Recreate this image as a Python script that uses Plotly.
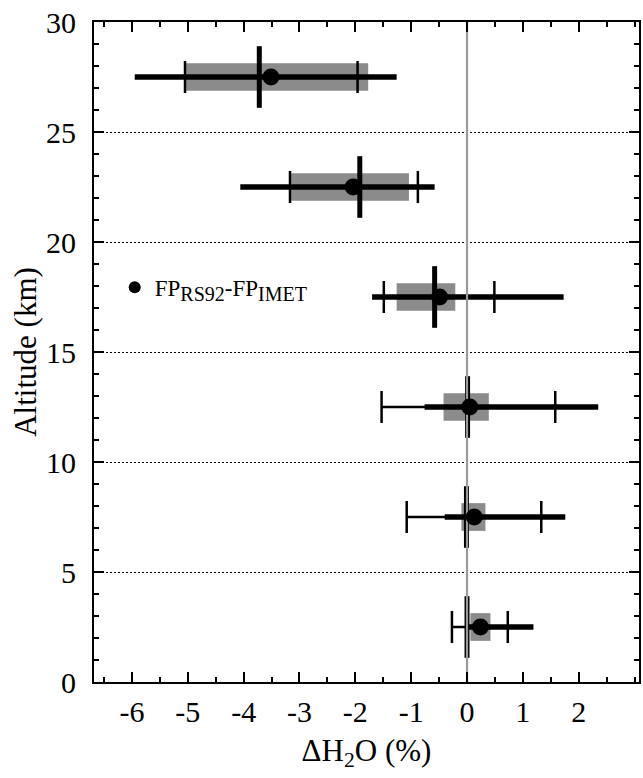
import plotly.graph_objects as go

# ---- data ----
altitude_km = [2.5, 7.5, 12.5, 17.5, 22.5, 27.5]
mean_diff = [0.24, 0.13, 0.05, -0.49, -2.04, -3.51]
median_diff = [0.00, -0.01, 0.01, -0.58, -1.92, -3.72]
box_low = [0.06, -0.10, -0.42, -1.26, -3.15, -5.03]
box_high = [0.42, 0.33, 0.39, -0.21, -1.04, -1.77]
thick_low = [0.02, -0.40, -0.76, -1.70, -4.06, -5.95]
thick_high = [1.19, 1.76, 2.35, 1.73, -0.58, -1.26]
thin_low = [-0.27, -1.08, -1.53, -1.49, -3.17, -5.05]
thin_high = [0.73, 1.33, 1.58, 0.49, -0.88, -1.96]
x_ticks = [-6, -5, -4, -3, -2, -1, 0, 1, 2]
y_ticks = [0, 5, 10, 15, 20, 25, 30]
x_range = [-6.68, 3.08]
y_range = [0, 30]
zero_ref = 0
legend_name = ('FP<sub><span style="font-size:20px">RS92</span></sub>-'
               'FP<sub><span style="font-size:20px">IMET</span></sub>')

FONT = "Liberation Serif"

fig = go.Figure()

# gray boxes
fig.add_trace(go.Bar(
    y=altitude_km,
    x=[h - l for l, h in zip(box_low, box_high)],
    base=box_low,
    orientation="h",
    width=1.26,
    marker=dict(color="#8b8b8b", line=dict(width=0)),
    showlegend=False, hoverinfo="skip",
))

# thin whiskers with caps
fig.add_trace(go.Scatter(
    x=mean_diff, y=altitude_km, mode="markers",
    marker=dict(size=1, color="rgba(0,0,0,0)"),
    error_x=dict(type="data", symmetric=False,
                 array=[h - m for m, h in zip(mean_diff, thin_high)],
                 arrayminus=[m - l for m, l in zip(mean_diff, thin_low)],
                 color="black", thickness=2.5, width=16),
    showlegend=False, hoverinfo="skip",
))

# thick range line
fig.add_trace(go.Scatter(
    x=mean_diff, y=altitude_km, mode="markers",
    marker=dict(size=1, color="rgba(0,0,0,0)"),
    error_x=dict(type="data", symmetric=False,
                 array=[h - m for m, h in zip(mean_diff, thick_high)],
                 arrayminus=[m - l for m, l in zip(mean_diff, thick_low)],
                 color="black", thickness=5.5, width=0),
    showlegend=False, hoverinfo="skip",
))

# median ticks
fig.add_trace(go.Scatter(
    x=median_diff, y=altitude_km, mode="markers",
    marker=dict(symbol="line-ns", size=44, line=dict(width=5, color="black")),
    showlegend=False, hoverinfo="skip",
))

# zero reference line
fig.add_trace(go.Scatter(
    x=[zero_ref, zero_ref], y=y_range, mode="lines",
    line=dict(color="#9a9a9a", width=2.2),
    showlegend=False, hoverinfo="skip",
))

# mean dots
fig.add_trace(go.Scatter(
    x=mean_diff, y=altitude_km, mode="markers",
    marker=dict(size=17, color="black"),
    name=legend_name, showlegend=True,
))

tickfont = dict(family=FONT, size=30, color="black")

fig.update_layout(
    template="none",
    width=643, height=778,
    margin=dict(l=94, r=4, t=22, b=96, autoexpand=False),
    paper_bgcolor="white", plot_bgcolor="white",
    barmode="overlay",
    font=dict(family=FONT, color="black"),
    showlegend=True,
    legend=dict(x=0.038, y=0.598, xanchor="left", yanchor="middle",
                bgcolor="rgba(0,0,0,0)", borderwidth=0,
                font=dict(family=FONT, size=23, color="black"),
                itemsizing="constant"),
    # labelled axes carry the inside half of each crossing tick
    xaxis=dict(
        automargin=False,
        range=x_range, tickvals=x_ticks, ticktext=[str(v) for v in x_ticks],
        ticks="inside", ticklen=10, tickwidth=2, tickcolor="black",
        showline=True, linewidth=2, linecolor="black", mirror="allticks",
        showgrid=False, zeroline=False, tickfont=tickfont,
        ticklabelstandoff=2, ticklabeloverflow="allow",
        minor=dict(dtick=0.5, tick0=0, ticks="inside", ticklen=5, tickwidth=2,
                   tickcolor="black", showgrid=False),
        title=dict(text="ΔH<sub>2</sub>O (%)",
                   font=dict(family=FONT, size=31, color="black"), standoff=12),
    ),
    yaxis=dict(
        automargin=False,
        range=y_range, tickvals=y_ticks, ticktext=[str(v) for v in y_ticks],
        ticks="inside", ticklen=10, tickwidth=2, tickcolor="black",
        showline=True, linewidth=2, linecolor="black", mirror="allticks",
        showgrid=True, gridcolor="black", gridwidth=1, griddash="2px,2px",
        zeroline=False, tickfont=tickfont, ticklabelstandoff=10,
        ticklabeloverflow="allow",
        minor=dict(dtick=1, tick0=0, ticks="inside", ticklen=5, tickwidth=2,
                   tickcolor="black", showgrid=False),
        title=dict(text="Altitude (km)",
                   font=dict(family=FONT, size=31, color="black"), standoff=0),
    ),
    xaxis2=dict(
        automargin=False,
        overlaying="x", matches="x", range=x_range, tickvals=x_ticks,
        ticks="outside", ticklen=10, tickwidth=2, tickcolor="black",
        showline=True, linewidth=2, linecolor="black", mirror="allticks",
        showticklabels=False, showgrid=False, zeroline=False,
        minor=dict(dtick=0.5, tick0=0, ticks="outside", ticklen=5, tickwidth=2,
                   tickcolor="black", showgrid=False),
    ),
    yaxis2=dict(
        automargin=False,
        overlaying="y", matches="y", range=y_range, tickvals=y_ticks,
        ticks="outside", ticklen=10, tickwidth=2, tickcolor="black",
        showline=True, linewidth=2, linecolor="black", mirror="allticks",
        showticklabels=False, showgrid=False, zeroline=False,
        minor=dict(dtick=1, tick0=0, ticks="outside", ticklen=5, tickwidth=2,
                   tickcolor="black", showgrid=False),
    ),
)

# remove the browser's default 8px page margin so the figure fills the window
fig.write_html("out.html",
               config={"displayModeBar": False},
               post_script="document.body.style.margin='0px';")
